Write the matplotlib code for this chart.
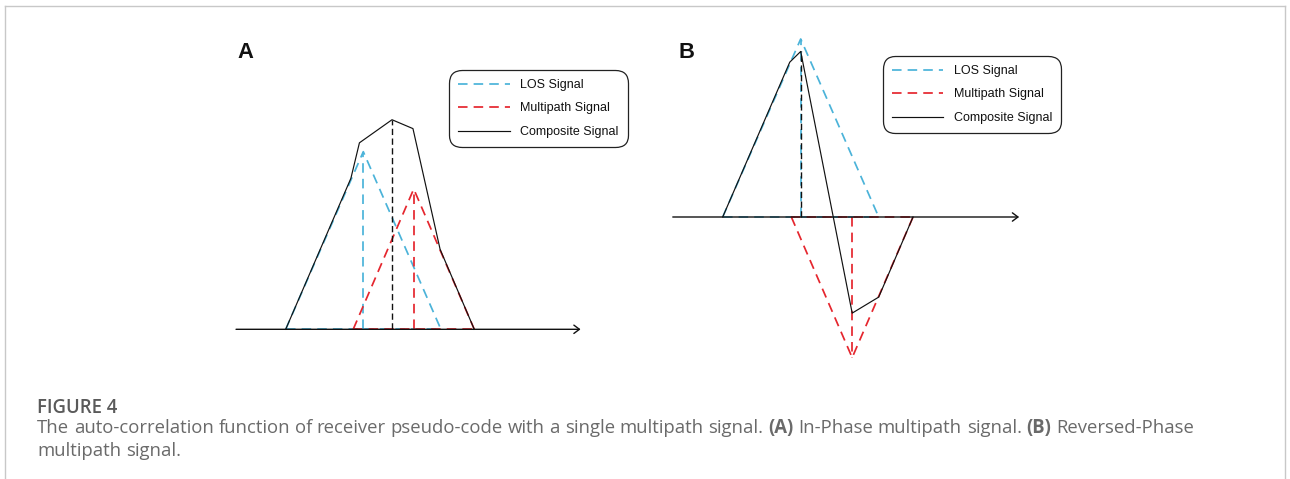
import numpy as np
import matplotlib
matplotlib.use("Agg")
import matplotlib.pyplot as plt
from matplotlib.lines import Line2D

W, H = 1290, 479

# ---- data (chip offset vs. normalised correlation) ----
los_x = [-1.0, 0.0, 1.0]
los_y = [0.0, 1.0, 0.0]

# A: in-phase multipath
mpA_x = [-0.13, 0.65, 1.43]
mpA_y = [0.0, 0.79, 0.0]
compA_x = [-1.0, -0.16, -0.05, 0.37, 0.64, 0.99, 1.43]
compA_y = [0.0, 0.85, 1.05, 1.18, 1.13, 0.45, 0.0]

# B: reversed-phase multipath
mpB_x = [-0.12, 0.66, 1.44]
mpB_y = [0.0, -0.79, 0.0]
compB_x = [-1.0, -0.14, 0.0, 0.66, 1.0, 1.44]
compB_y = [0.0, 0.87, 0.93, -0.54, -0.45, 0.0]

axis_range = (-1.64, 2.80)
legend_labels = ["LOS Signal", "Multipath Signal", "Composite Signal"]
panel_labels = ["A", "B"]

BLUE = "#4bb3d9"
RED = "#e5262e"
INK = "#111111"
GREY = "#6a6a6a"


def make_axes(fig, ox, oy, sx, sy, xlim, ylim):
    # ox, oy: pixel position of data origin, sx, sy: pixels per unit
    left = ox + sx * xlim[0]
    right = ox + sx * xlim[1]
    top = oy - sy * ylim[1]
    bottom = oy - sy * ylim[0]
    ax = fig.add_axes([left / W, 1 - bottom / H, (right - left) / W, (bottom - top) / H])
    ax.set_xlim(xlim)
    ax.set_ylim(ylim)
    ax.axis("off")
    return ax


def draw_panel(ax, mp_x, mp_y, comp_x, comp_y):
    ax.annotate("", xy=(axis_range[1], 0), xytext=(axis_range[0], 0),
                arrowprops=dict(arrowstyle="->,head_length=0.4,head_width=0.3",
                                lw=1.0, color=INK, shrinkA=0, shrinkB=0))
    dash = dict(lw=1.25, dashes=(5.5, 3.5))
    ax.plot([los_x[0], los_x[-1]], [0, 0], color=BLUE, **dash)
    ax.plot([mp_x[0], mp_x[-1]], [0, 0], color=RED, **dash)
    l1, = ax.plot(los_x, los_y, color=BLUE, **dash)
    ax.plot([los_x[1]] * 2, [0, los_y[1]], color=BLUE, **dash)
    l2, = ax.plot(mp_x, mp_y, color=RED, **dash)
    ax.plot([mp_x[1]] * 2, [0, mp_y[1]], color=RED, **dash)
    k = int(np.argmax(np.abs(comp_y)))
    ax.plot([comp_x[k]] * 2, [0, comp_y[k]], color=INK, lw=1.0, dashes=(4.5, 2.5))
    l3, = ax.plot(comp_x, comp_y, color=INK, lw=0.85)
    return [l1, l2, l3]


def add_legend(ax, fig, handles, xpx, ypx):
    leg = ax.legend(handles, legend_labels, loc="upper left",
                    bbox_to_anchor=(xpx / W, 1 - ypx / H), bbox_transform=fig.transFigure,
                    prop=dict(family="Liberation Sans", size=9),
                    handlelength=4.1, handletextpad=0.85, borderpad=0.72,
                    labelspacing=0.92, borderaxespad=0, frameon=True,
                    fancybox=True, edgecolor="#222222", framealpha=1)
    fr = leg.get_frame()
    fr.set_boxstyle("round,pad=0,rounding_size=1.0")
    fr.set_linewidth(0.9)
    for t in leg.get_texts():
        t.set_color("#111111")


def text_runs(fig, renderer, x, y, runs, **kw):
    probe = fig.text(0, 0, "x x", **kw)
    w1 = probe.get_window_extent(renderer).width
    probe.set_text("xx")
    space = w1 - probe.get_window_extent(renderer).width
    probe.remove()
    for s, weight in runs:
        words = s.split(" ")
        for i, word in enumerate(words):
            if i > 0:
                x += space
            if word:
                t = fig.text(x / W, 1 - y / H, word, weight=weight, va="baseline", **kw)
                x += t.get_window_extent(renderer).width
    return x


fig = plt.figure(figsize=(W / 100, H / 100), dpi=100)

axA = make_axes(fig, 363.3, 329.3, 77.6, 177.6, (-1.8, 3.0), (-0.1, 1.45))
hA = draw_panel(axA, mpA_x, mpA_y, compA_x, compA_y)
add_legend(axA, fig, hA, 449.3, 70)

axB = make_axes(fig, 800.7, 217, 78, 178, (-1.8, 3.0), (-0.9, 1.1))
hB = draw_panel(axB, mpB_x, mpB_y, compB_x, compB_y)
add_legend(axB, fig, hB, 882.7, 56)

for lab, xp in zip(panel_labels, [237.5, 679]):
    fig.text(xp / W, 1 - 58.3 / H, lab, family="Liberation Sans", weight="bold",
             fontsize=15.8, color="#111111", va="baseline")

# frame lines round the figure area
for xs, ys in [((4.5, 4.5), (6, H + 2)), ((4.5, 1285), (6, 6)), ((1285, 1285), (6, H + 2))]:
    fig.add_artist(Line2D([x / W for x in xs], [1 - y / H for y in ys],
                          color="#c8c8c8", lw=1.0))

# caption
renderer = fig.canvas.get_renderer()
line1 = [("The auto-correlation function of receiver pseudo-code with a single multipath signal. ", "normal"),
         ("(A)", "bold"), (" In-Phase multipath signal. ", "normal"),
         ("(B)", "bold"), (" Reversed-Phase", "normal")]
cap_kw = dict(family="Open Sans", color=GREY)
size = 10.0
tmp = fig.text(0, 0, "".join(s for s, _ in line1), fontsize=size, **cap_kw)
wtmp = tmp.get_window_extent(renderer).width
tmp.remove()
size = size * 1153 / wtmp

fig.text(37 / W, 1 - 413 / H, "FIGURE 4", family="Open Sans", weight="semibold",
         fontsize=size, color="#5a5a5a", va="baseline")
text_runs(fig, renderer, 37, 433, line1, fontsize=size, **cap_kw)
text_runs(fig, renderer, 37, 456, [("multipath signal.", "normal")], fontsize=size, **cap_kw)

fig.savefig("out.png", dpi=100)
